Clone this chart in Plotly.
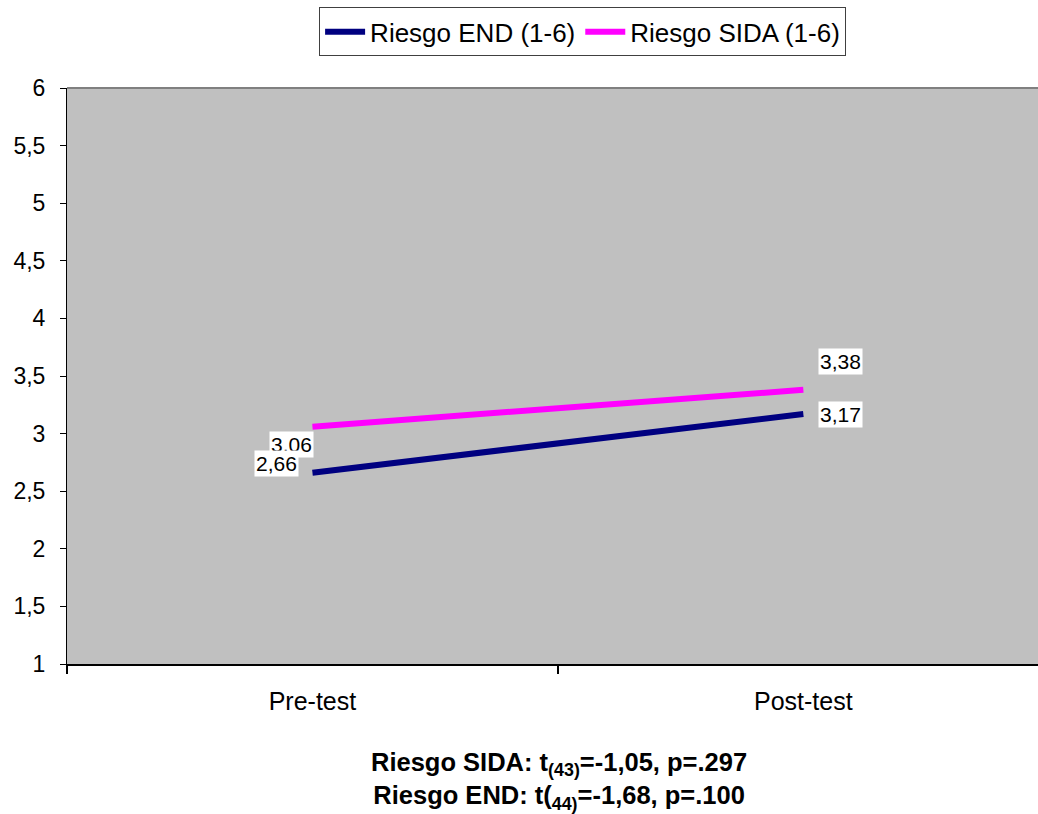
import plotly.graph_objects as go

# categories and series
categories = ["Pre-test", "Post-test"]
riesgo_end = [2.66, 3.17]
riesgo_sida = [3.06, 3.38]

# label offsets (pixels) for the value boxes: (xshift, yshift)
end_offsets = [(-36, 9), (37, 0)]
sida_offsets = [(-21, -18), (37, 28)]

x_pos = list(range(len(categories)))

fig = go.Figure()

fig.add_trace(go.Scatter(
    x=x_pos, y=riesgo_end, mode="lines", name="Riesgo END (1-6)",
    line=dict(color="#000080", width=6)
))
fig.add_trace(go.Scatter(
    x=x_pos, y=riesgo_sida, mode="lines", name="Riesgo SIDA (1-6)",
    line=dict(color="#FF00FF", width=6)
))


def fmt(v):
    return f"{v:.2f}".replace(".", ",")


for vals, offs in [(riesgo_sida, sida_offsets), (riesgo_end, end_offsets)]:
    for x, v, (dx, dy) in zip(x_pos, vals, offs):
        fig.add_annotation(
            x=x, y=v, xref="x", yref="y", text=fmt(v), showarrow=False,
            xshift=dx, yshift=dy, bgcolor="white", borderpad=1,
            font=dict(family="Liberation Sans, Arial", size=21, color="black")
        )

# stats text under the chart
fig.add_annotation(
    x=0.507, y=-0.142, xref="paper", yref="paper", showarrow=False,
    xanchor="center", yanchor="top", align="center",
    text="<b>Riesgo SIDA: t<sub>(43)</sub>=-1,05, p=.297</b><br>"
         "<b>Riesgo END: t(<sub>44)</sub>=-1,68, p=.100</b>",
    font=dict(family="Liberation Sans, Arial", size=25.5, color="black")
)

fig.update_layout(
    width=1038, height=814,
    margin=dict(l=67, r=0, t=88, b=150),
    paper_bgcolor="white",
    plot_bgcolor="#C0C0C0",
    separators=",.",
    font=dict(family="Liberation Sans, Arial", color="black", size=25),
    showlegend=True,
    legend=dict(
        orientation="h", x=0.531, xanchor="center", y=1.14, yanchor="top",
        bordercolor="#404040", borderwidth=1, bgcolor="white",
        font=dict(size=26), itemwidth=40, tracegroupgap=0,
    ),
    shapes=[dict(type="line", xref="paper", yref="paper", x0=0, x1=1, y0=1, y1=1,
                 line=dict(color="#808080", width=2))],
)

fig.update_xaxes(
    range=[-0.5, 1.478],
    tickvals=x_pos, ticktext=categories, ticks="",
    showgrid=False, zeroline=False,
    showline=True, linecolor="black", linewidth=2,
    tickfont=dict(size=25), ticklabelstandoff=14,
    minor=dict(tick0=-0.5, dtick=1, ticks="outside", ticklen=8,
               tickcolor="black", tickwidth=2, showgrid=False),
)
fig.update_yaxes(
    range=[1, 6], dtick=0.5, ticks="outside", ticklen=6,
    tickcolor="black", tickwidth=1,
    showgrid=False, zeroline=False,
    showline=True, linecolor="black", linewidth=1,
    tickfont=dict(size=23), ticklabelstandoff=10,
)

fig.write_html(
    "out.html",
    config={"displayModeBar": False},
    post_script="document.body.style.margin='0';document.body.style.overflow='hidden';",
)
